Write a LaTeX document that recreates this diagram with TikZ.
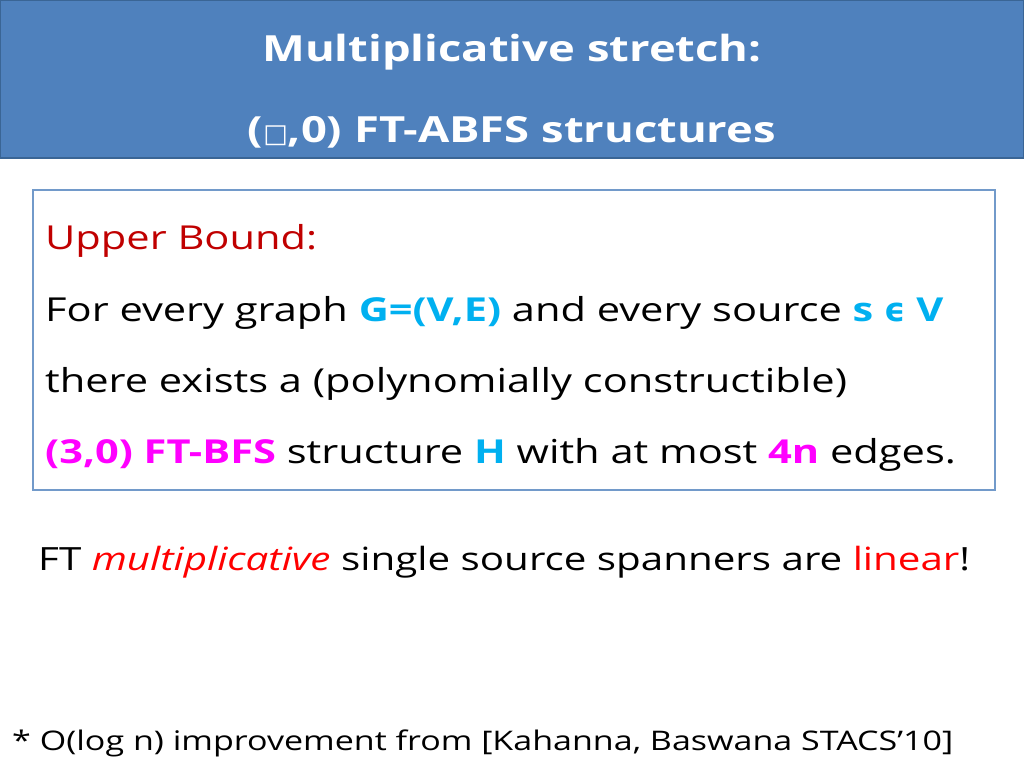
\documentclass[tikz,border=0pt]{standalone}
\usepackage{fontspec}
\setmainfont{Open Sans}[FakeStretch=1.26]
\newfontfamily\symf{DejaVu Sans}
\definecolor{bar}{HTML}{4F81BD}
\definecolor{barb}{HTML}{3A6595}
\definecolor{dred}{HTML}{C00000}
\definecolor{cblue}{HTML}{00B0F0}
\definecolor{mag}{HTML}{FF00FF}
\begin{document}
\begin{tikzpicture}[x=1pt,y=-1pt,
  t/.style={anchor=base west,inner sep=0pt,font=\fontsize{33}{40}\selectfont},
  h/.style={anchor=base,inner sep=0pt,text=white,font=\fontsize{36}{42}\selectfont\bfseries}]
\useasboundingbox (0,0) rectangle (1024,768);
\fill[white] (0,0) rectangle (1024,768);
\fill[bar,draw=barb,line width=2pt] (0,0) rectangle (1024,158);
\node[h] (h1) at (512,62) {Multiplicative stretch:};
\node[h] (h2) at (512,142) {({\symf\fontsize{26}{30}\selectfont□},0) FT-ABFS structures};
\draw[bar!80,line width=1.5pt] (33,190) rectangle (995,490);
\node[t,text=dred] (l1) at (45,249) {Upper Bound:};
\node[t] (l2) at (45,321) {For every graph \textcolor{cblue}{\bfseries G=(V,E)} and every source \textcolor{cblue}{\bfseries s {\symf ϵ} V}};
\node[t] (l3) at (45,392) {there exists a (polynomially constructible)};
\node[t] (l4) at (45,463) {\textcolor{mag}{\bfseries (3,0) FT-BFS} structure \textcolor{cblue}{\bfseries H} with at most \textcolor{mag}{\bfseries 4n} edges.};
\node[t,font=\fontsize{32}{38}\selectfont] (l5) at (38,570) {FT \textcolor{red}{\itshape multiplicative} single source spanners are \textcolor{red}{linear}!};
\node[t,font=\fontsize{27}{32}\selectfont] (l6) at (12,750) {* O(log n) improvement from [Kahanna, Baswana STACS’10]};
\end{tikzpicture}
\end{document}
